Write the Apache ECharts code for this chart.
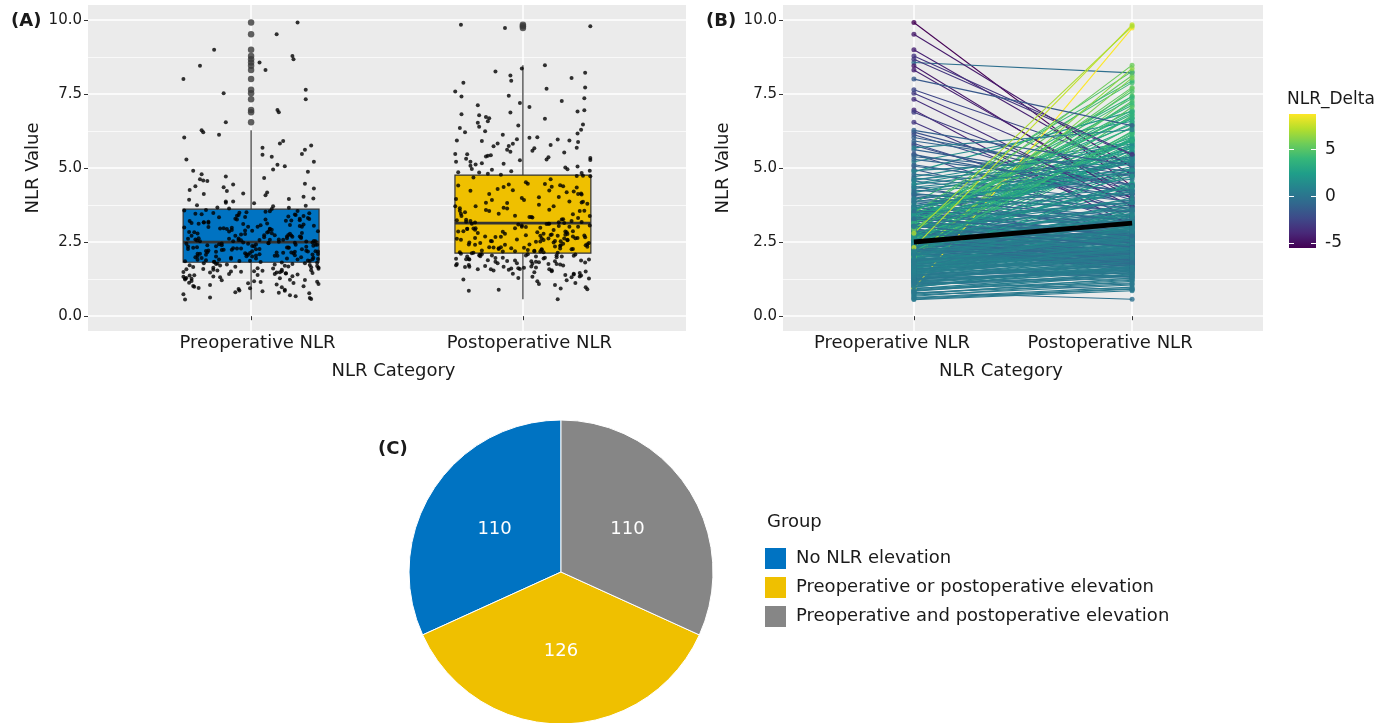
<!DOCTYPE html>
<html>
<head>
<meta charset="utf-8">
<script src="https://cdn.jsdelivr.net/npm/echarts@6/dist/echarts.min.js"></script>
<style>
  html, body { margin: 0; padding: 0; background: #fff; }
  #main { width: 1395px; height: 723px; }
</style>
</head>
<body>
<div id="main"></div>
<script>
const categories = ['Preoperative NLR', 'Postoperative NLR']

// paired NLR values, one patient per index
const preNLR = [
  2.31,1.74,3.05,0.92,2.68,4.12,1.95,2.44,3.38,1.21,5.06,2.12,2.87,1.63,3.52,2.03,9.91,1.42,2.59,3.21,
  1.88,2.76,0.71,3.44,2.19,1.55,6.12,2.95,1.33,2.48,3.87,0.98,2.22,8.56,1.79,3.14,2.63,4.71,1.16,2.07,
  2.53,1.47,3.29,2.01,0.84,4.38,1.92,2.71,1.68,3.58,2.36,5.47,1.27,2.92,7.52,1.86,3.11,2.15,0.63,2.82,
  2.27,3.73,1.51,2.58,0.95,3.02,2.41,1.71,4.95,2.09,3.41,1.38,2.66,8.99,1.97,3.26,5.83,1.59,2.34,4.22,
  1.83,2.99,1.12,3.67,2.46,0.77,2.13,4.56,1.45,2.84,1.99,3.49,6.96,2.55,1.64,2.24,3.95,1.02,2.73,5.21,
  2.62,1.76,3.17,2.05,1.29,4.03,2.39,0.89,3.35,2.18,1.57,8.31,2.79,1.91,3.63,2.51,1.37,4.87,2.28,3.08,
  1.96,2.88,0.58,2.43,3.54,1.49,2.17,4.44,1.81,3.19,2.57,5.62,1.19,2.32,6.54,1.69,3.02,2.11,9.51,2.69,
  2.36,1.53,3.46,2.08,0.81,2.74,1.89,3.81,2.26,1.24,5.38,2.97,1.73,2.49,3.23,1.05,4.17,2.61,7.64,1.94,
  2.14,3.12,1.62,2.53,1.31,3.71,2.02,0.67,2.83,4.66,1.84,2.38,3.39,1.48,6.21,2.21,2.94,1.15,3.57,8.67,
  1.78,2.47,3.28,0.94,2.16,1.44,3.93,2.64,1.86,5.11,2.33,1.09,2.91,3.66,1.66,2.04,4.31,2.57,1.35,3.16,
  2.42,1.58,3.09,2.23,0.86,2.77,1.93,3.48,4.08,2.11,1.41,2.86,6.88,1.72,3.31,2.56,1.23,4.79,2.01,5.76,
  1.91,2.58,0.74,3.43,2.29,1.52,3.01,2.09,4.47,1.26,2.69,3.83,1.80,2.44,8.45,1.07,3.24,2.17,5.45,1.99,
  2.49,1.67,3.36,2.07,1.18,2.81,1.85,3.62,2.24,0.61,4.14,2.72,1.47,3.13,2.35,7.32,1.97,5.91,2.63,1.39,
  2.19,2.96,1.61,3.51,2.41,0.99,2.73,1.83,3.97,2.28,1.28,4.58,2.52,1.74,3.07,6.03,2.12,1.54,2.85,3.47,
  1.87,2.39,3.22,1.13,2.67,0.87,2.04,3.74,1.60,2.98,2.31,4.91,1.42,2.54,3.41,8.78,1.79,2.26,5.29,1.01,
  2.45,1.70,2.89,2.10,1.34,3.26,1.90,3.55,2.61,0.79,4.26,2.18,1.50,2.78,6.27,2.37,1.65,3.34,2.93,8.00,
  2.06,2.53,1.57,3.15,2.27,1.22,2.71,1.95,3.87,2.41,1.11,4.62,2.15,3.04,1.76,5.68,2.59,1.46,3.29,2.32,
  2.20,1.52,3.02,0.56,2.80,4.35
]
const postNLR = [
  3.12,1.31,5.41,1.48,2.95,3.56,5.62,2.28,7.12,2.05,4.21,1.76,1.95,2.67,4.83,1.88,4.38,2.22,3.76,6.35,
  2.64,2.18,1.05,5.21,6.02,2.34,3.92,1.97,1.62,4.96,3.25,1.84,3.58,8.21,7.44,2.76,2.41,5.88,0.89,3.33,
  1.94,2.86,4.12,2.52,1.37,3.06,6.78,5.96,2.11,2.69,4.89,3.12,1.73,5.34,4.36,2.39,1.66,7.67,0.98,8.12,
  5.52,2.97,2.23,4.41,1.12,5.73,2.06,2.59,3.38,1.69,6.04,1.91,3.02,4.77,2.74,6.81,3.55,1.43,7.26,4.68,
  2.31,3.86,1.58,2.63,5.47,1.21,2.78,3.71,2.02,1.85,4.34,7.88,3.04,5.83,2.47,1.59,4.97,1.76,3.21,6.58,
  2.19,2.94,7.35,3.63,1.74,2.81,4.52,1.41,5.93,2.57,1.96,4.11,3.39,2.44,5.16,1.82,2.16,6.91,6.12,2.54,
  3.21,2.42,0.91,2.05,6.66,3.09,2.58,5.31,1.64,3.83,7.72,4.44,1.52,2.92,3.31,2.27,5.58,1.72,5.02,3.55,
  2.71,1.88,3.02,4.85,0.57,3.46,2.27,7.94,1.58,1.93,4.72,3.66,2.53,6.21,5.29,1.51,5.55,3.14,5.12,2.09,
  2.86,2.63,2.32,1.99,1.79,4.91,6.24,1.18,2.49,3.87,2.68,5.78,7.41,1.34,4.25,3.26,2.14,1.63,6.47,5.43,
  2.24,3.71,2.83,9.72,2.49,2.08,3.35,5.68,2.87,4.02,1.79,1.27,5.26,3.12,2.62,8.04,4.81,2.21,2.01,6.95,
  1.86,2.37,6.53,2.73,1.43,3.24,2.16,8.26,3.18,2.97,1.71,2.09,4.01,3.56,5.05,2.85,1.85,4.23,7.06,3.79,
  2.53,4.46,1.29,2.77,1.92,2.51,5.39,2.66,5.74,1.55,3.16,3.02,2.29,1.77,3.95,1.39,6.68,2.98,4.14,8.36,
  6.39,2.14,2.58,3.44,1.61,4.24,2.42,5.27,1.67,0.93,3.51,3.11,2.39,6.87,2.62,3.71,4.47,4.86,2.08,1.54,
  1.76,5.97,3.06,2.69,2.83,1.67,5.93,2.33,4.62,3.38,1.46,5.82,2.01,2.96,3.92,4.74,2.54,2.26,7.58,4.18,
  2.41,2.91,2.47,1.68,4.73,1.24,3.17,4.29,1.91,7.19,2.12,5.36,2.26,1.89,5.67,5.46,2.72,3.82,4.42,1.58,
  3.01,2.04,2.61,2.78,1.84,3.84,2.19,3.27,5.91,1.09,3.64,6.16,1.97,2.35,5.08,3.35,2.43,4.94,8.47,6.43,
  2.56,3.19,2.01,6.72,1.81,1.57,4.37,2.64,4.12,3.46,1.33,5.21,2.75,2.33,2.18,6.29,3.99,2.06,2.71,9.83,
  2.87,2.29,3.59,0.86,9.78,5.14
]

// box stats: [lower whisker, Q1, median, Q3, upper whisker]
const preBox = [0.56, 1.82, 2.50, 3.61, 6.27]
const postBox = [0.57, 2.13, 3.14, 4.76, 8.47]

const yTicks = [0, 2.5, 5, 7.5, 10]
const yMinorTicks = [1.25, 3.75, 6.25, 8.75]
const deltaTicks = [-5, 0, 5]

const groups = ['No NLR elevation', 'Preoperative or postoperative elevation', 'Preoperative and postoperative elevation']
const groupCounts = [110, 126, 110]

// horizontal jitter pattern (category units), cycled over the points
const jitter = [
  -0.213,0.087,0.231,-0.046,0.152,-0.174,0.018,-0.238,0.193,-0.108,0.124,-0.022,0.246,-0.139,0.053,-0.197,0.171,-0.081,0.102,-0.226,
  0.209,-0.037,0.143,-0.182,0.004,0.221,-0.118,0.069,-0.249,0.161,-0.066,0.113,-0.157,0.031,0.198,-0.219,0.132,-0.093,0.243,-0.011,
  -0.188,0.094,0.179,-0.129,0.042,-0.205,0.226,-0.058,0.137,-0.166,0.011,0.187,-0.243,0.076,-0.101,0.216,-0.029,0.148,-0.151,0.059,
  -0.232,0.201,-0.074,0.118,-0.193,0.024,0.237,-0.114,0.081,-0.017,0.164,-0.209,0.048,-0.136,0.229,-0.052,0.106,-0.176,0.203,-0.089,
  0.035,-0.246,0.156,-0.124,0.064,0.214,-0.004,-0.161,0.128,-0.228,0.184,-0.043,0.097,-0.199,0.248,-0.071,0.139
]

const FONT = 'DejaVu Sans'
const TXT = '#1a1a1a'
const BOX_COLORS = ['#0073C2', '#EFC000']
const PIE_COLORS = ['#0073C2', '#EFC000', '#868686']
const VIRIDIS = ['#440154', '#482878', '#3E4A89', '#31688E', '#26828E', '#1F9E89', '#35B779', '#6DCD59', '#B4DE2C', '#FDE725']

function hexRgb(h) {
  return [parseInt(h.slice(1, 3), 16), parseInt(h.slice(3, 5), 16), parseInt(h.slice(5, 7), 16)]
}
function viridis(t) {
  t = Math.max(0, Math.min(1, t))
  const p = t * (VIRIDIS.length - 1)
  const i = Math.min(Math.floor(p), VIRIDIS.length - 2)
  const f = p - i
  const a = hexRgb(VIRIDIS[i]), b = hexRgb(VIRIDIS[i + 1])
  const c = a.map((v, k) => Math.round(v + (b[k] - v) * f))
  return 'rgb(' + c.join(',') + ')'
}

const deltas = preNLR.map((v, i) => postNLR[i] - v)
const dMin = Math.min(...deltas)
const dMax = Math.max(...deltas)
const deltaColor = d => viridis((d - dMin) / (dMax - dMin))

const boxes = [[1, ...preBox], [2, ...postBox]]
const outliers = []
preNLR.forEach(v => { if (v > preBox[4] || v < preBox[0]) outliers.push([1, v]) })
postNLR.forEach(v => { if (v > postBox[4] || v < postBox[0]) outliers.push([2, v]) })

const jitterPts = []
preNLR.forEach((v, i) => jitterPts.push([1 + jitter[i % jitter.length], v]))
postNLR.forEach((v, i) => jitterPts.push([2 + jitter[(i + 41) % jitter.length], v]))

const pairLines = preNLR.map((v, i) => ({
  coords: [[1, v], [2, postNLR[i]]],
  lineStyle: {color: deltaColor(deltas[i])},
}))
const pairPts = []
preNLR.forEach((v, i) => {
  const c = deltaColor(deltas[i])
  pairPts.push({value: [1, v], itemStyle: {color: c}})
  pairPts.push({value: [2, postNLR[i]], itemStyle: {color: c}})
})

function xAxisFor(gridIndex, pad) {
  return {
    type: 'value', gridIndex, min: 0.4, max: 2.6,
    axisLine: {show: false},
    axisTick: {length: 4, lineStyle: {color: '#333'}, customValues: [1, 2]},
    axisLabel: {
      customValues: [1, 2], margin: 3, color: TXT, fontSize: 18, fontFamily: FONT, padding: pad,
      formatter: v => categories[Math.round(v) - 1],
    },
    splitLine: {show: true, lineStyle: {color: '#fff', width: 1.5}},
    name: 'NLR Category', nameLocation: 'middle', nameGap: 31,
    nameTextStyle: {color: TXT, fontSize: 18, fontFamily: FONT, padding: pad},
  }
}
function yAxisFor(gridIndex, ticks, major, gap) {
  return {
    type: 'value', gridIndex, min: -0.5, max: 10.5, position: 'left',
    axisLine: {show: false},
    axisTick: {show: true, length: major ? 4 : 0, lineStyle: {color: '#333'}, customValues: ticks},
    axisLabel: {
      show: major, customValues: ticks, margin: 6, color: TXT, fontSize: 15, fontFamily: FONT,
      formatter: v => v.toFixed(1),
    },
    splitLine: {show: true, lineStyle: {color: '#fff', width: major ? 1.5 : 0.7}},
    name: major ? 'NLR Value' : '', nameLocation: 'middle', nameGap: gap,
    nameTextStyle: {color: TXT, fontSize: 18, fontFamily: FONT},
  }
}
function cbarAxis(pos, labels) {
  return {
    type: 'value', gridIndex: 2, min: dMin, max: dMax, position: pos, z: 10,
    axisLine: {show: false},
    axisTick: {show: true, inside: true, length: 5, lineStyle: {color: '#fff', width: 1}, customValues: deltaTicks},
    axisLabel: {show: labels, customValues: deltaTicks, margin: 9, color: TXT, fontSize: 17, fontFamily: FONT},
    splitLine: {show: false},
  }
}

const chart = echarts.init(document.getElementById('main'))

const option = {
  animation: false,
  textStyle: {fontFamily: FONT},
  title: [
    {text: '(A)', left: 11, top: 12, padding: 0, textStyle: {fontSize: 18, fontWeight: 'bold', color: TXT, fontFamily: FONT}},
    {text: '(B)', left: 706, top: 12, padding: 0, textStyle: {fontSize: 18, fontWeight: 'bold', color: TXT, fontFamily: FONT}},
    {text: '(C)', left: 378, top: 440, padding: 0, textStyle: {fontSize: 18, fontWeight: 'bold', color: TXT, fontFamily: FONT}},
    {text: 'Group', left: 767, top: 513, padding: 0, textStyle: {fontSize: 18, fontWeight: 'normal', color: TXT, fontFamily: FONT}},
    {text: 'NLR_Delta', left: 1287, top: 91, padding: 0, textStyle: {fontSize: 17, fontWeight: 'normal', color: TXT, fontFamily: FONT}},
  ],
  legend: {
    data: groups, orient: 'vertical', left: 763, top: 546, padding: 0,
    icon: 'rect', itemWidth: 23, itemHeight: 23, itemGap: 4,
    textStyle: {fontSize: 18, color: TXT, fontFamily: FONT, padding: [0, 0, 0, 4]},
    selectedMode: false,
  },
  grid: [
    {left: 88, top: 5, width: 598, height: 326, show: true, backgroundColor: '#EBEBEB', borderWidth: 0, outerBoundsMode: 'none'},
    {left: 783, top: 5, width: 480, height: 326, show: true, backgroundColor: '#EBEBEB', borderWidth: 0, outerBoundsMode: 'none'},
    {left: 1289, top: 114, width: 27, height: 134, show: false, outerBoundsMode: 'none'},
  ],
  xAxis: [
    xAxisFor(0, [0, 0, 0, 13]),
    xAxisFor(1, [0, 44, 0, 0]),
    {type: 'value', gridIndex: 2, min: 0, max: 1, show: false},
  ],
  yAxis: [
    yAxisFor(0, yTicks, true, 46),
    yAxisFor(0, yMinorTicks, false, 0),
    yAxisFor(1, yTicks, true, 51),
    yAxisFor(1, yMinorTicks, false, 0),
    cbarAxis('left', false),
    cbarAxis('right', true),
  ],
  series: [
    {
      type: 'custom', xAxisIndex: 0, yAxisIndex: 0, z: 2,
      data: boxes,
      encode: {x: 0, y: [1, 2, 3, 4, 5]},
      renderItem: (params, api) => {
        const x = api.value(0)
        const lo = api.coord([x, api.value(1)])
        const q1 = api.coord([x, api.value(2)])
        const med = api.value(3)
        const q3 = api.coord([x, api.value(4)])
        const hi = api.coord([x, api.value(5)])
        const tl = api.coord([x - 0.25, api.value(4)])
        const br = api.coord([x + 0.25, api.value(2)])
        const ml = api.coord([x - 0.25, med])
        const mr = api.coord([x + 0.25, med])
        const stroke = {stroke: '#333', lineWidth: 1.2}
        return {
          type: 'group',
          children: [
            {type: 'line', shape: {x1: lo[0], y1: lo[1], x2: q1[0], y2: q1[1]}, style: stroke},
            {type: 'line', shape: {x1: q3[0], y1: q3[1], x2: hi[0], y2: hi[1]}, style: stroke},
            {type: 'rect', shape: {x: tl[0], y: tl[1], width: br[0] - tl[0], height: br[1] - tl[1]},
              style: {fill: BOX_COLORS[params.dataIndex], stroke: '#333', lineWidth: 1.2}},
            {type: 'line', shape: {x1: ml[0], y1: ml[1], x2: mr[0], y2: mr[1]}, style: {stroke: '#333', lineWidth: 2.6}},
          ],
        }
      },
    },
    {
      type: 'scatter', xAxisIndex: 0, yAxisIndex: 0, z: 3,
      data: outliers, symbolSize: 6.5, itemStyle: {color: '#3a3a3a'}, silent: true,
    },
    {
      type: 'scatter', xAxisIndex: 0, yAxisIndex: 0, z: 4,
      data: jitterPts, symbolSize: 4, itemStyle: {color: '#000'}, silent: true,
    },
    {
      type: 'lines', coordinateSystem: 'cartesian2d', xAxisIndex: 1, yAxisIndex: 2, z: 2,
      data: pairLines, lineStyle: {width: 1.1, opacity: 1}, silent: true,
    },
    {
      type: 'scatter', xAxisIndex: 1, yAxisIndex: 2, z: 3,
      data: pairPts, symbolSize: 5, silent: true,
    },
    {
      type: 'line', xAxisIndex: 1, yAxisIndex: 2, z: 5,
      data: [[1, preBox[2]], [2, postBox[2]]], symbol: 'none',
      lineStyle: {color: '#000', width: 5}, silent: true,
    },
    {
      type: 'custom', xAxisIndex: 2, yAxisIndex: 5, z: 2,
      data: [[0, dMin, dMax]],
      encode: {x: 0, y: [1, 2]},
      renderItem: (params, api) => {
        const top = api.coord([0, api.value(2)])
        const bot = api.coord([1, api.value(1)])
        const stops = VIRIDIS.slice().reverse().map((c, i) => ({offset: i / (VIRIDIS.length - 1), color: c}))
        return {
          type: 'rect',
          shape: {x: top[0], y: top[1], width: bot[0] - top[0], height: bot[1] - top[1]},
          style: {fill: new echarts.graphic.LinearGradient(0, 0, 0, 1, stops)},
        }
      },
    },
    {
      type: 'pie', center: [561, 572], radius: 152, startAngle: 90, clockwise: false,
      data: groups.map((g, i) => ({name: g, value: groupCounts[i], itemStyle: {color: PIE_COLORS[i]}})),
      itemStyle: {borderColor: '#fff', borderWidth: 1},
      label: {position: 'inside', formatter: '{c}', color: '#fff', fontSize: 18, fontFamily: FONT},
      labelLine: {show: false},
      emphasis: {disabled: true},
      silent: true,
    },
  ],
}

chart.setOption(option)
</script>
</body>
</html>
